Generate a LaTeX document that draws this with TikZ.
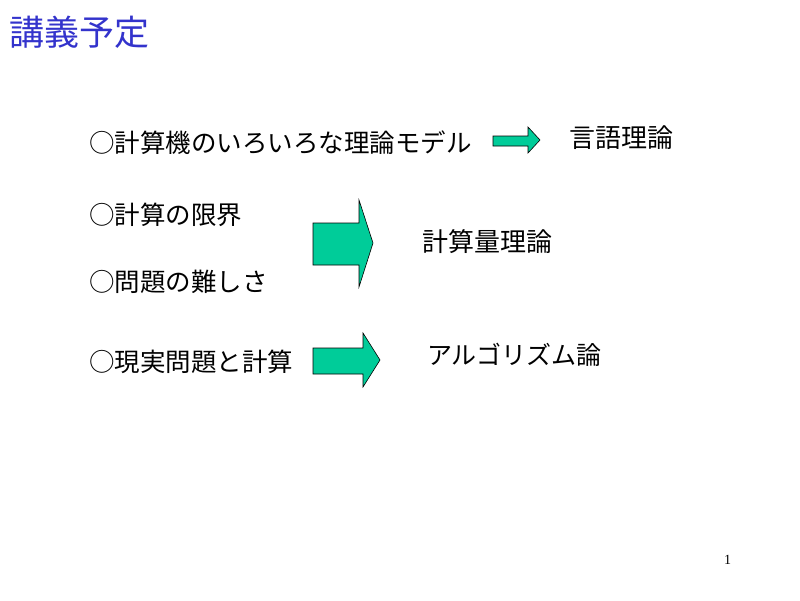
\documentclass[tikz,border=0pt]{standalone}
\usepackage{fontspec}
\setmainfont{Liberation Serif}
\newfontfamily\jpfont{Noto Sans CJK JP}
\usetikzlibrary{positioning}

\definecolor{titleblue}{HTML}{3333CC}
\definecolor{arrowgreen}{HTML}{00CC99}

\begin{document}
\begin{tikzpicture}[x=1pt,y=-1pt,inner sep=0pt]

  \tikzstyle{every node}=[anchor=west]
  \tikzstyle{item}=[font=\jpfont\fontsize{25.5}{30}\selectfont]
  \tikzstyle{result}=[font=\jpfont\fontsize{26}{30}\selectfont]
  \tikzstyle{bigarrow}=[fill=arrowgreen,draw=black,line width=0.6pt]

  \useasboundingbox (0,0) rectangle (800,600);

  \node[font=\jpfont\fontsize{35}{40}\selectfont,text=titleblue] (title) at (9,32) {講義予定};

  \node[item] (models) at (89,143) {○計算機のいろいろな理論モデル};
  \node[item] (limit)  at (89,215) {○計算の限界};
  \node[item] (hard)   at (89,282) {○問題の難しさ};
  \node[item] (real)   at (89,362) {○現実問題と計算};

  \node[result] (lang) at (569,138) {言語理論};
  \node[result] (comp) at (422,242) {計算量理論};
  \node[result,font=\jpfont\fontsize{25}{30}\selectfont] (algo) at (427,355) {アルゴリズム論};

  % block arrows
  \draw[bigarrow] (493,136) -- (528,136) -- (528,127) -- (540,140)
                  -- (528,153) -- (528,146) -- (493,146) -- cycle;
  \draw[bigarrow] (313,223) -- (359,223) -- (359,200) -- (373,243)
                  -- (359,287) -- (359,265) -- (313,265) -- cycle;
  \draw[bigarrow] (313,348) -- (363,348) -- (363,333) -- (380,360)
                  -- (363,387) -- (363,374) -- (313,374) -- cycle;

  \node[font=\fontsize{14}{16}\selectfont] (page) at (724,560) {1};
\end{tikzpicture}
\end{document}
